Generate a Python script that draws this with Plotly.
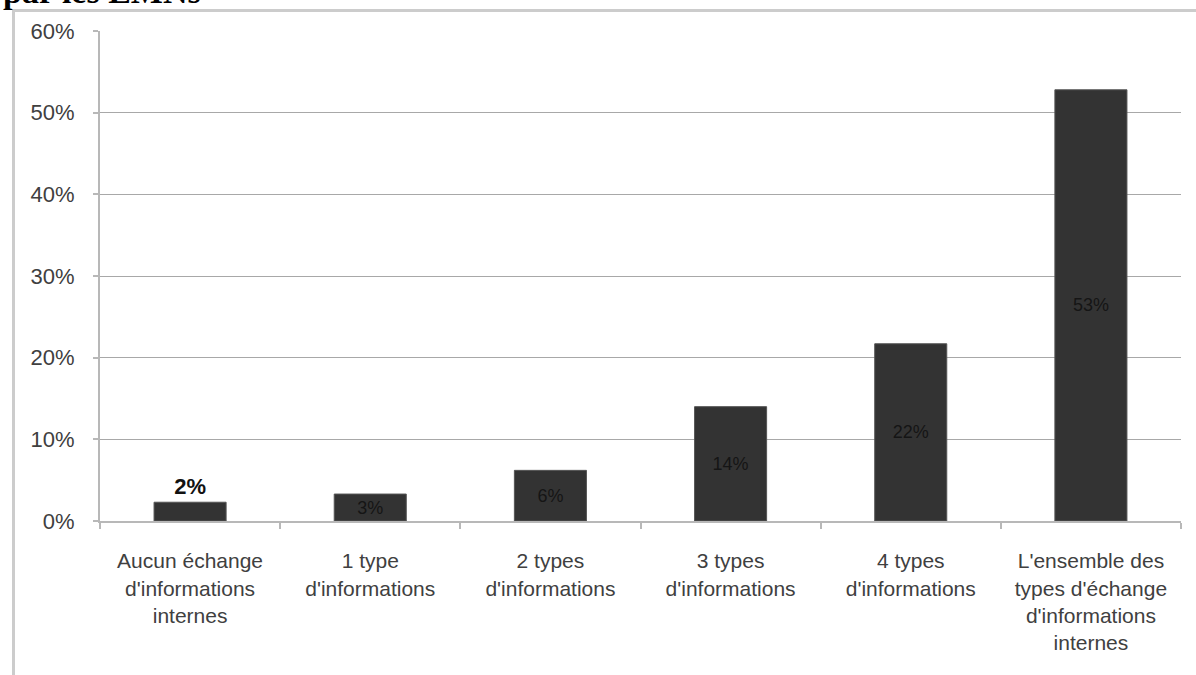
import plotly.graph_objects as go

categories = [
    "Aucun échange<br>d'informations<br>internes",
    "1 type<br>d'informations",
    "2 types<br>d'informations",
    "3 types<br>d'informations",
    "4 types<br>d'informations",
    "L'ensemble des<br>types d'échange<br>d'informations<br>internes",
]
values = [2.3, 3.3, 6.2, 14.0, 21.7, 52.8]
labels = ["<b>2%</b>", "3%", "6%", "14%", "22%", "53%"]
label_positions = ["outside", "inside", "inside", "inside", "inside", "inside"]
label_sizes = [22, 18, 18, 18, 18, 18]
label_colors = ["#111111", "#151515", "#151515", "#151515", "#151515", "#151515"]
y_ticks = [0, 10, 20, 30, 40, 50, 60]
y_ticklabels = ["0%", "10%", "20%", "30%", "40%", "50%", "60%"]
title_text = "<b>par les EMNs</b>"

W, H = 1196, 675
L, R, T, B = 100, 1181, 31, 521  # plot area in pixels
pw, ph = R - L, B - T


def px_x(px):
    return (px - L) / pw


def px_y(py):
    return (B - py) / ph


fig = go.Figure()
fig.add_trace(go.Bar(
    x=categories,
    y=values,
    text=labels,
    textposition=label_positions,
    insidetextanchor="middle",
    constraintext="none",
    cliponaxis=False,
    textfont=dict(family="Liberation Sans, Arial, sans-serif", size=label_sizes, color=label_colors),
    marker=dict(color="#333333", line=dict(color="#555555", width=1)),
    width=0.4,
    hoverinfo="skip",
))

fig.update_layout(
    width=W, height=H,
    margin=dict(l=L, r=W - R, t=T, b=H - B, pad=0),
    paper_bgcolor="white",
    plot_bgcolor="white",
    showlegend=False,
    font=dict(family="Liberation Sans, Arial, sans-serif", size=21, color="#404040"),
    xaxis=dict(
        type="category",
        showgrid=False,
        showline=True, linecolor="#b8b8b8", linewidth=2,
        ticks="outside", tickson="boundaries", ticklen=6, tickcolor="#b8b8b8", tickwidth=2,
        tickfont=dict(size=21, color="#404040"),
        ticklabelstandoff=20,
        fixedrange=True,
    ),
    yaxis=dict(
        range=[0, 60],
        tickvals=y_ticks, ticktext=y_ticklabels,
        showgrid=True, gridcolor="#a8a8a8", gridwidth=1,
        showline=True, linecolor="#b8b8b8", linewidth=2,
        ticks="outside", ticklen=5, tickcolor="#b8b8b8", tickwidth=2,
        tickfont=dict(size=22, color="#404040"),
        ticklabelstandoff=14,
        zeroline=False,
        fixedrange=True,
    ),
    annotations=[dict(
        text=title_text, xref="paper", yref="paper",
        x=px_x(1), y=px_y(12), xanchor="left", yanchor="bottom",
        showarrow=False,
        font=dict(family="Liberation Serif, Times New Roman, serif", size=34, color="#000000"),
    )],
    shapes=[
        dict(type="line", xref="paper", yref="paper",
             x0=px_x(12), x1=px_x(1200), y0=px_y(10.5), y1=px_y(10.5),
             line=dict(color="#cccccc", width=3)),
        dict(type="line", xref="paper", yref="paper",
             x0=px_x(13.5), x1=px_x(13.5), y0=px_y(9), y1=px_y(680),
             line=dict(color="#cccccc", width=3)),
    ],
)

fig.write_html(
    "out.html",
    config={"displayModeBar": False},
    post_script="document.body.style.margin='0';document.body.style.overflow='hidden';",
)
